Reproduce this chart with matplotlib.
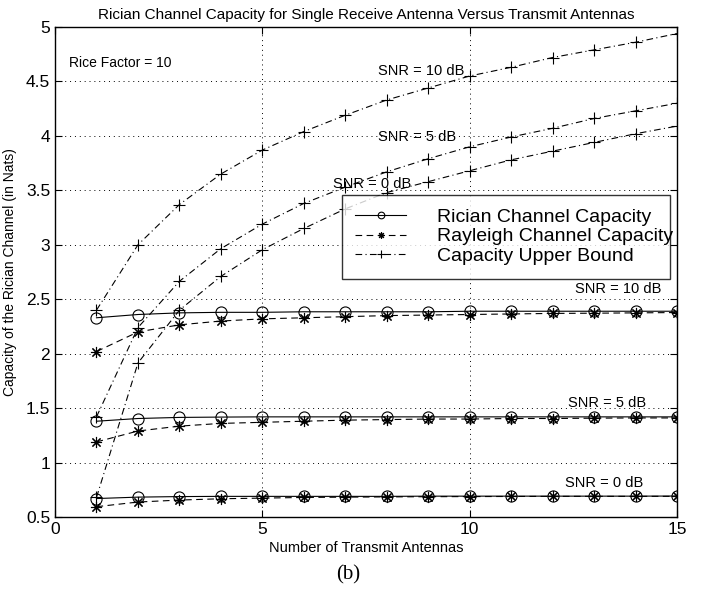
import numpy as np
import matplotlib.pyplot as plt

# ------------------------------------------------------------
# datos (K = 10, una antena receptora)
# ------------------------------------------------------------
n_tx = np.arange(1, 16)

rician_10 = [2.33, 2.36, 2.375, 2.38, 2.38, 2.385, 2.385, 2.385, 2.385, 2.39, 2.39, 2.39, 2.39, 2.39, 2.39]
rician_5 = [1.38, 1.405, 1.415, 1.418, 1.42, 1.42, 1.42, 1.42, 1.42, 1.42, 1.42, 1.42, 1.42, 1.42, 1.42]
rician_0 = [0.67, 0.683, 0.688, 0.69, 0.69, 0.69, 0.69, 0.69, 0.692, 0.692, 0.692, 0.692, 0.692, 0.692, 0.693]

rayleigh_10 = [2.02, 2.20, 2.265, 2.30, 2.32, 2.33, 2.34, 2.35, 2.355, 2.36, 2.365, 2.37, 2.372, 2.375, 2.378]
rayleigh_5 = [1.19, 1.29, 1.335, 1.36, 1.37, 1.38, 1.39, 1.395, 1.40, 1.40, 1.405, 1.405, 1.408, 1.41, 1.41]
rayleigh_0 = [0.595, 0.638, 0.656, 0.668, 0.674, 0.68, 0.683, 0.685, 0.687, 0.688, 0.689, 0.69, 0.69, 0.69, 0.69]

bound_10 = [2.40, 3.00, 3.37, 3.65, 3.87, 4.04, 4.19, 4.33, 4.44, 4.55, 4.63, 4.72, 4.79, 4.86, 4.94]
bound_5 = [1.42, 2.24, 2.665, 2.965, 3.19, 3.38, 3.53, 3.67, 3.79, 3.90, 3.99, 4.07, 4.16, 4.23, 4.30]
bound_0 = [0.68, 1.915, 2.40, 2.71, 2.955, 3.15, 3.33, 3.48, 3.58, 3.68, 3.78, 3.86, 3.94, 4.02, 4.09]

leyendas = ['Rician Channel Capacity', 'Rayleigh Channel Capacity', 'Capacity Upper Bound']

plt.rcParams['font.family'] = ['Liberation Sans', 'DejaVu Sans']

fig = plt.figure(figsize=(7.1, 5.95), dpi=100)
ax = fig.add_axes([0.0775, 0.131, 0.876, 0.8236])

asterisco = (8, 2, 0)
lw = 0.8

h1, = ax.plot(n_tx, rician_10, 'k-', marker='o', mfc='none', ms=8, lw=lw, mew=0.8)
ax.plot(n_tx, rician_5, 'k-', marker='o', mfc='none', ms=8, lw=lw, mew=0.8)
ax.plot(n_tx, rician_0, 'k-', marker='o', mfc='none', ms=8, lw=lw, mew=0.8)

h2, = ax.plot(n_tx, rayleigh_10, 'k--', marker=asterisco, ms=8, lw=lw, mew=0.8, dashes=(6, 4))
ax.plot(n_tx, rayleigh_5, 'k--', marker=asterisco, ms=8, lw=lw, mew=0.8, dashes=(6, 4))
ax.plot(n_tx, rayleigh_0, 'k--', marker=asterisco, ms=8, lw=lw, mew=0.8, dashes=(6, 4))

h3, = ax.plot(n_tx, bound_10, 'k-.', marker='+', ms=9, lw=lw, mew=0.8, dashes=(6, 3, 1, 3))
ax.plot(n_tx, bound_5, 'k-.', marker='+', ms=9, lw=lw, mew=0.8, dashes=(6, 3, 1, 3))
ax.plot(n_tx, bound_0, 'k-.', marker='+', ms=9, lw=lw, mew=0.8, dashes=(6, 3, 1, 3))

ax.set_xlim(0, 15)
ax.set_ylim(0.5, 5)
ax.set_xticks([0, 5, 10, 15])
ax.set_yticks(np.arange(0.5, 5.01, 0.5))
ax.set_yticklabels(['0.5', '1', '1.5', '2', '2.5', '3', '3.5', '4', '4.5', '5'])
ax.tick_params(direction='in', top=True, right=True, labelsize=12.5, length=5, width=0.8)
ax.grid(True, linestyle=(0, (1, 4)), color='k', linewidth=0.7)
for s in ax.spines.values():
    s.set_linewidth(1.0)

ax.set_title('Rician Channel Capacity for Single Receive Antenna Versus Transmit Antennas',
             fontsize=11, pad=6)
ax.set_xlabel('Number of Transmit Antennas', fontsize=10.5, labelpad=3)
ax.set_ylabel('Capacity of the Rician Channel (in Nats)', fontsize=10, labelpad=6)

# anotaciones
ax.text(0.34, 4.67, 'Rice Factor = 10', fontsize=10, va='center')
ax.text(7.8, 4.60, 'SNR = 10 dB', fontsize=10.5, va='center')
ax.text(7.8, 3.99, 'SNR = 5 dB', fontsize=10.5, va='center')
ax.text(6.7, 3.56, 'SNR = 0 dB', fontsize=10.5, va='center', zorder=0)
ax.text(12.55, 2.59, 'SNR = 10 dB', fontsize=10.5, va='center')
ax.text(12.37, 1.545, 'SNR = 5 dB', fontsize=10.5, va='center')
ax.text(12.3, 0.81, 'SNR = 0 dB', fontsize=10.5, va='center')

leg = ax.legend([h1, h2, h3], leyendas, loc='upper left',
                bbox_to_anchor=(0.461, 0.49, 0.527, 0.168), mode='expand',
                fontsize=14, frameon=True, fancybox=False, edgecolor='k',
                borderpad=0.7, labelspacing=0.1, handlelength=2.6, handletextpad=1.6,
                borderaxespad=0, markerscale=0.6)
leg.get_frame().set_linewidth(1.0)

fig.text(0.49, 0.034, '(b)', fontsize=15, family='Liberation Serif', ha='center', va='center')

fig.savefig('out.png', dpi=100)
